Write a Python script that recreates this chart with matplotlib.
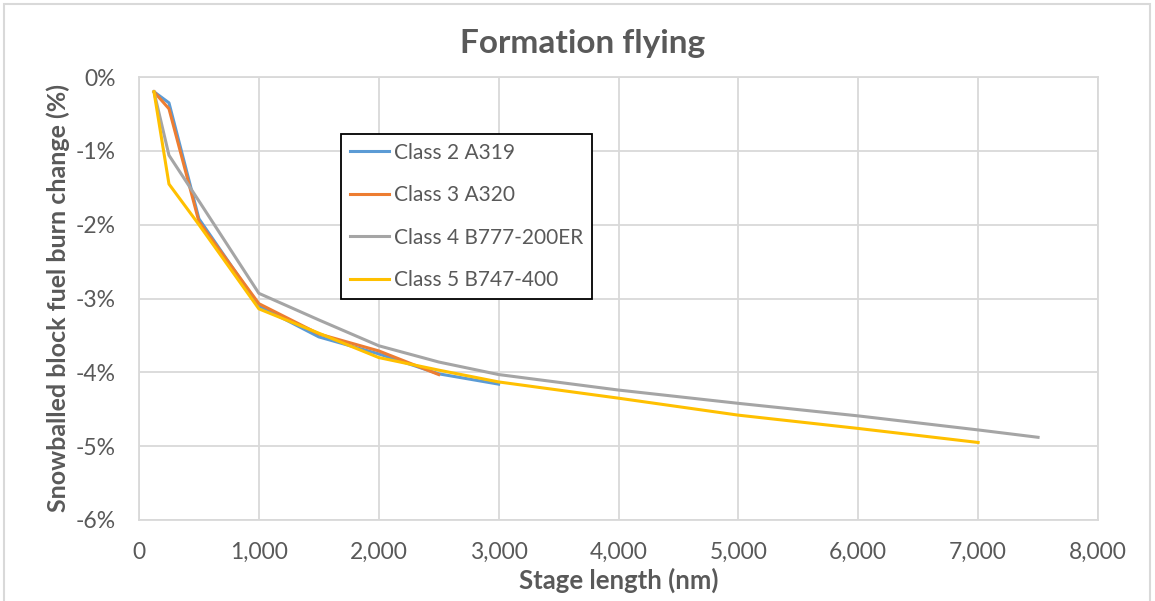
import matplotlib.pyplot as plt
from matplotlib.ticker import FuncFormatter, MultipleLocator
from matplotlib.patches import Rectangle

plt.rcParams['font.family'] = ['Lato', 'DejaVu Sans']

# stage length (nm) and snowballed block fuel burn change (%)
x_class2 = [125, 250, 500, 1000, 1500, 2000, 2500, 3000]
y_class2 = [-0.2, -0.35, -1.92, -3.10, -3.52, -3.75, -4.02, -4.16]

x_class3 = [125, 250, 500, 1000, 1500, 2000, 2500]
y_class3 = [-0.2, -0.43, -1.96, -3.07, -3.48, -3.71, -4.03]

x_class4 = [125, 250, 500, 1000, 1500, 2000, 2500, 3000, 4000, 5000, 6000, 7000, 7500]
y_class4 = [-0.2, -1.06, -1.68, -2.93, -3.29, -3.64, -3.86, -4.03, -4.24, -4.42, -4.59, -4.78, -4.88]

x_class5 = [125, 250, 500, 1000, 1500, 2000, 2500, 3000, 4000, 5000, 6000, 7000]
y_class5 = [-0.2, -1.45, -2.00, -3.14, -3.47, -3.80, -3.97, -4.13, -4.35, -4.58, -4.76, -4.95]

labels = ['Class 2 A319', 'Class 3 A320', 'Class 4 B777-200ER', 'Class 5 B747-400']
colors = ['#5B9BD5', '#ED7D31', '#A5A5A5', '#FFC000']

txt = '#595959'
grid = '#D9D9D9'

fig = plt.figure(figsize=(11.55, 6.01), dpi=100)
ax = fig.add_axes([139/1155, 1-520/601, 959/1155, 443/601])

# outer chart border
fig.patches.append(Rectangle((4/1155, -0.01), 1146/1155, 1-4/601+0.01,
                             transform=fig.transFigure, fill=False,
                             edgecolor=grid, linewidth=1.5))

series = [(x_class2, y_class2), (x_class3, y_class3), (x_class4, y_class4), (x_class5, y_class5)]
for (xs, ys), lab, c in zip(series, labels, colors):
    ax.plot(xs, ys, color=c, linewidth=2.2, label=lab, solid_joinstyle='round')

ax.set_xlim(0, 8000)
ax.set_ylim(-6, 0)
ax.xaxis.set_major_locator(MultipleLocator(1000))
ax.yaxis.set_major_locator(MultipleLocator(1))
ax.xaxis.set_major_formatter(FuncFormatter(lambda v, p: f'{int(v):,}'))
ax.yaxis.set_major_formatter(FuncFormatter(lambda v, p: f'{int(round(v))}%'))
ax.grid(True, color=grid, linewidth=1.3)
ax.set_axisbelow(True)
for s in ax.spines.values():
    s.set_color(grid)
    s.set_linewidth(1.3)
ax.tick_params(length=0, labelsize=16.5, colors=txt)
ax.tick_params(axis='x', pad=16)
ax.tick_params(axis='y', pad=17)

fig.text(583/1155, 1-43/601, 'Formation flying', fontsize=24, fontweight='bold',
         color=txt, ha='center', va='center')
ax.set_xlabel('Stage length (nm)', fontsize=18.5, fontweight='bold', color=txt, labelpad=3)
ax.set_ylabel('Snowballed block fuel burn change (%)', fontsize=18, fontweight='bold', color=txt, labelpad=4)

leg = ax.legend(loc='upper left', bbox_to_anchor=((341-139)/959, (520-134)/443),
                borderaxespad=0, fancybox=False, framealpha=1, edgecolor='black',
                fontsize=15, labelcolor=txt, handlelength=1.9, handletextpad=0.2,
                labelspacing=1.08, borderpad=0.42)
leg.get_frame().set_linewidth(1.3)

fig.savefig('out.png', dpi=100)
